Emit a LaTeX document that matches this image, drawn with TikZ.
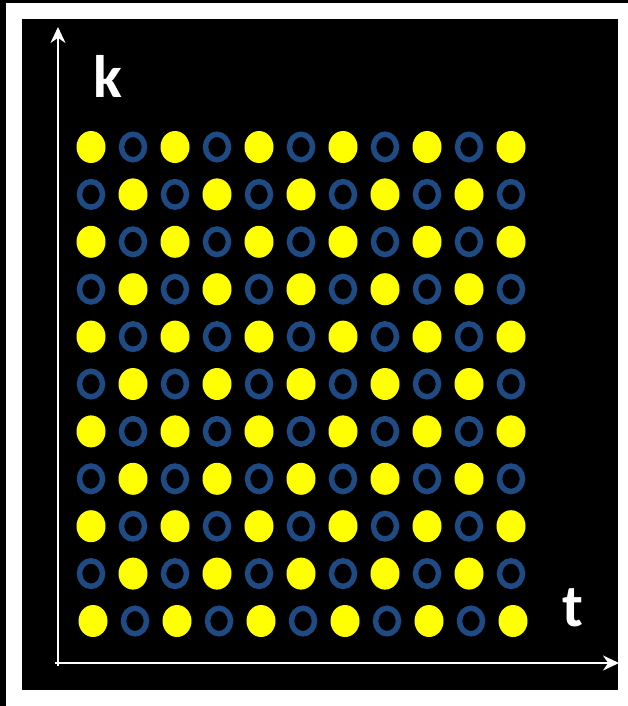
\documentclass[tikz,border=0pt]{standalone}
\usepackage{fontspec}
\setsansfont{Carlito}
\usepackage{tikz}
\usetikzlibrary{arrows.meta,positioning,shapes.geometric}
\definecolor{dotyellow}{RGB}{255,255,0}
\definecolor{ringblue}{RGB}{31,75,132}

\begin{document}
\begin{tikzpicture}[x=1pt,y=-1pt,>={Stealth[length=16pt,width=15pt]},
  full/.style={ellipse,fill=dotyellow,minimum width=29pt,minimum height=32pt,inner sep=0pt},
  ring/.style={ellipse,draw=ringblue,line width=5.5pt,minimum width=23pt,minimum height=25.5pt,inner sep=0pt},
  axis/.style={->,draw=white,line width=2.2pt},
  lbl/.style={text=white,inner sep=0pt,font=\sffamily\bfseries\fontsize{60}{64}\selectfont}]
  \useasboundingbox (0,0) rectangle (628,706);
  \fill[white] (0,0) rectangle (628,706);
  \fill[black] (0,0) rectangle (6,706);
  \fill[black] (0,0) rectangle (628,3);
  \fill[black] (22,19) rectangle (618,690);
  % checkerboard of dots, bottom row sits a bit to the right
  \foreach \r in {0,...,10}
    \foreach \c in {0,...,10} {
      \pgfmathsetmacro\dx{\r==10 ? 2 : 0}
      \pgfmathtruncatemacro\odd{mod(\r+\c,2)}
      \ifnum\odd=0
        \node[full] (d-\r-\c) at ({91+\dx+42*\c},{147+47.4*\r}) {};
      \else
        \node[ring] (d-\r-\c) at ({91+\dx+42*\c},{147+47.4*\r}) {};
      \fi
    }
  \coordinate (hstart) at (55,663);
  \coordinate (vstart) at (58,666);
  \coordinate (ktip) at (58,27);
  \coordinate (ttip) at (619,663);
  \draw[axis] (vstart) -- (ktip);
  \draw[axis] (hstart) -- (ttip);
  \node[lbl] (klabel) at (107.5,76.5) {k};
  \node[lbl] (tlabel) at (573,607.5) {t};
\end{tikzpicture}
\end{document}
